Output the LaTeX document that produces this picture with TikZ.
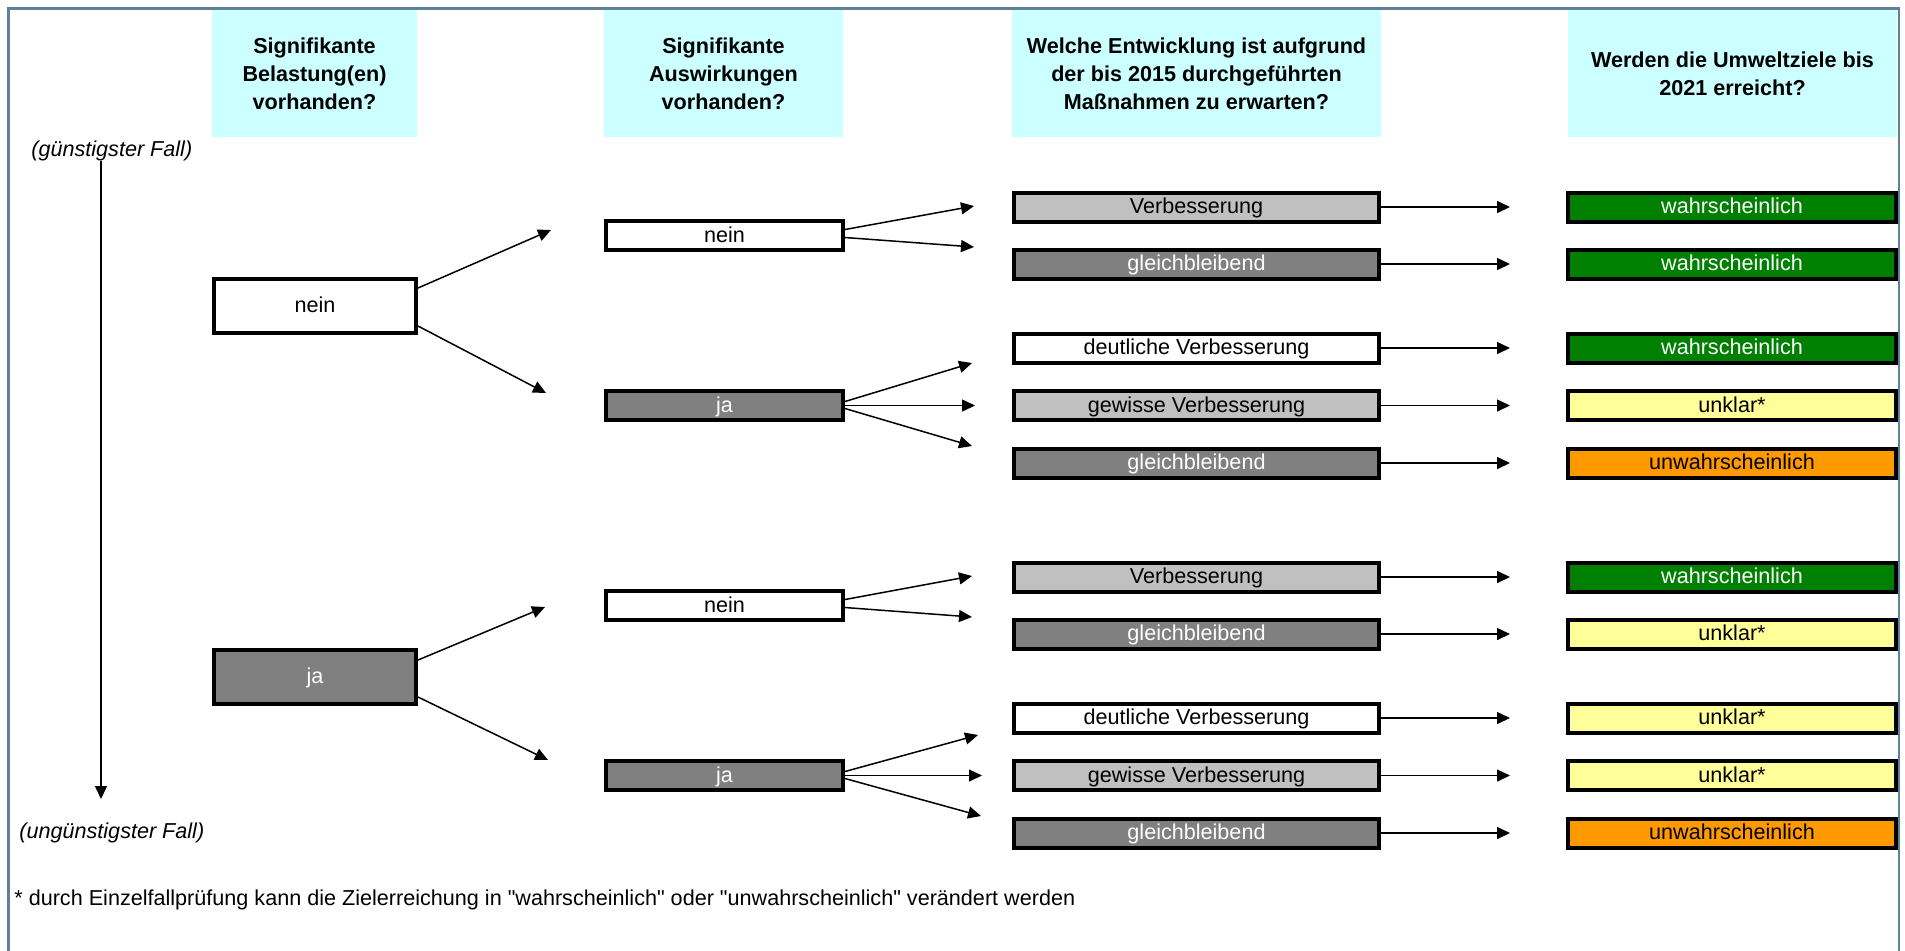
\documentclass[tikz,border=0pt]{standalone}
\usepackage{fontspec}
\setmainfont{Liberation Sans}
\newfontfamily\plainfont{Liberation Sans}
\usetikzlibrary{arrows.meta}
\definecolor{hdr}{HTML}{CCFFFF}
\definecolor{lgr}{HTML}{C0C0C0}
\definecolor{dgr}{HTML}{808080}
\definecolor{grn}{HTML}{008000}
\definecolor{yel}{HTML}{FFFF99}
\definecolor{org}{HTML}{FF9900}
\definecolor{frm}{HTML}{5F819B}
\begin{document}
\begin{tikzpicture}[x=0.5pt,y=-0.5pt,
  every node/.style={font=\fontsize{10.8}{14}\selectfont},
  hdrbox/.style={fill=hdr,inner sep=0pt,minimum height=63.5pt,align=center,font=\fontsize{10.8}{14}\selectfont\bfseries},
  box/.style={draw=black,line width=2pt,inner sep=0pt,text height=7.6pt,text depth=1pt},
  lone/.style={box,minimum width=101pt,minimum height=27pt},
  ltwo/.style={box,minimum width=118.5pt,minimum height=14.5pt},
  lthree/.style={box,minimum width=182.5pt,minimum height=14.5pt},
  lfour/.style={box,minimum width=164pt,minimum height=14.5pt},
  wbox/.style={fill=white,text=black},
  lbox/.style={fill=lgr,text=black},
  dbox/.style={fill=dgr,text=white},
  gbox/.style={fill=grn,text=white},
  ybox/.style={fill=yel,text=black},
  obox/.style={fill=org,text=black},
  arr/.style={line width=0.75pt,-{Triangle[length=6.5pt,width=6pt]}},
  txt/.style={inner sep=0pt,anchor=west}]
\useasboundingbox (0,0) rectangle (1905,950);
\draw[frm,line width=1.3pt] (8.5,990) -- (8.5,8.5) -- (1899,8.5) -- (1899,990);

% headers
\node[hdrbox,minimum width=102.5pt] (h1) at (314.5,73.5) {Signifikante\\Belastung(en)\\vorhanden?};
\node[hdrbox,minimum width=119.5pt] (h2) at (723.5,73.5) {Signifikante\\Auswirkungen\\vorhanden?};
\node[hdrbox,minimum width=184.5pt] (h3) at (1196.5,73.5) {Welche Entwicklung ist aufgrund\\der bis 2015 durchgeführten\\Maßnahmen zu erwarten?};
\node[hdrbox,minimum width=164.5pt] (h4) at (1732.5,73.5) {Werden die Umweltziele bis\\2021 erreicht?};

% side labels
\node[txt,font=\fontsize{10.8}{14}\selectfont\itshape] (gf) at (31,151) {(günstigster Fall)};
\node[txt,font=\fontsize{10.8}{14}\selectfont\itshape] (uf) at (19,833) {(ungünstigster Fall)};
\node[txt,font=\fontsize{10.8}{14}\selectfont\plainfont] (fn) at (14,900) {* durch Einzelfallprüfung kann die Zielerreichung in "wahrscheinlich" oder "unwahrscheinlich" verändert werden};
\coordinate (vtop) at (101,161);
\coordinate (vbot) at (101,799);
\draw[arr] (vtop) -- (vbot);

% level 1
\node[lone,wbox] (n1) at (315,306) {nein};
\node[lone,dbox] (j1) at (315,677) {ja};

% level 2
\node[ltwo,wbox] (n2a) at (724.5,235.5) {nein};
\node[ltwo,dbox] (j2a) at (724.5,405.5) {ja};
\node[ltwo,wbox] (n2b) at (724.5,605.5) {nein};
\node[ltwo,dbox] (j2b) at (724.5,775.5) {ja};

% level 3
\node[lthree,lbox] (v1) at (1196.5,207) {Verbesserung};
\node[lthree,dbox] (v2) at (1196.5,264) {gleichbleibend};
\node[lthree,wbox] (v3) at (1196.5,348) {deutliche Verbesserung};
\node[lthree,lbox] (v4) at (1196.5,405.5) {gewisse Verbesserung};
\node[lthree,dbox] (v5) at (1196.5,463) {gleichbleibend};
\node[lthree,lbox] (v6) at (1196.5,577) {Verbesserung};
\node[lthree,dbox] (v7) at (1196.5,634) {gleichbleibend};
\node[lthree,wbox] (v8) at (1196.5,718) {deutliche Verbesserung};
\node[lthree,lbox] (v9) at (1196.5,775.5) {gewisse Verbesserung};
\node[lthree,dbox] (v10) at (1196.5,833) {gleichbleibend};

% level 4
\node[lfour,gbox] (w1) at (1732,207) {wahrscheinlich};
\node[lfour,gbox] (w2) at (1732,264) {wahrscheinlich};
\node[lfour,gbox] (w3) at (1732,348) {wahrscheinlich};
\node[lfour,ybox] (w4) at (1732,405.5) {unklar*};
\node[lfour,obox] (w5) at (1732,463) {unwahrscheinlich};
\node[lfour,gbox] (w6) at (1732,577) {wahrscheinlich};
\node[lfour,ybox] (w7) at (1732,634) {unklar*};
\node[lfour,ybox] (w8) at (1732,718) {unklar*};
\node[lfour,ybox] (w9) at (1732,775.5) {unklar*};
\node[lfour,obox] (w10) at (1732,833) {unwahrscheinlich};

% free arrow tips
\coordinate (t1a) at (551,230);
\coordinate (t1b) at (546,393);
\coordinate (t1c) at (545,607);
\coordinate (t1d) at (548,760);
\coordinate (t2a) at (974,206);
\coordinate (t2b) at (974,247);
\coordinate (t2c) at (972,363);
\coordinate (t2d) at (975,405.5);
\coordinate (t2e) at (972,446);
\coordinate (t2f) at (972,576);
\coordinate (t2g) at (972,617);
\coordinate (t2h) at (978,735);
\coordinate (t2i) at (982,775.5);
\coordinate (t2j) at (981,816);
\coordinate (tx) at (1510,0);

% level 1 -> level 2
\draw[arr] ([yshift=9pt]n1.east) -- (t1a);
\draw[arr] ([yshift=-10pt]n1.east) -- (t1b);
\draw[arr] ([yshift=8.5pt]j1.east) -- (t1c);
\draw[arr] ([yshift=-10pt]j1.east) -- (t1d);

% level 2 -> level 3
\draw[arr] ([yshift=3pt]n2a.east) -- (t2a);
\draw[arr] ([yshift=-1pt]n2a.east) -- (t2b);
\draw[arr] ([yshift=2pt]j2a.east) -- (t2c);
\draw[arr] (j2a.east) -- (t2d);
\draw[arr] ([yshift=-1.5pt]j2a.east) -- (t2e);
\draw[arr] ([yshift=3pt]n2b.east) -- (t2f);
\draw[arr] ([yshift=-1pt]n2b.east) -- (t2g);
\draw[arr] ([yshift=2pt]j2b.east) -- (t2h);
\draw[arr] (j2b.east) -- (t2i);
\draw[arr] ([yshift=-1.5pt]j2b.east) -- (t2j);

% level 3 -> level 4
\foreach \i in {1,...,10} {
  \draw[arr] (v\i.east) -- (v\i.east -| tx);
}
\end{tikzpicture}
\end{document}
